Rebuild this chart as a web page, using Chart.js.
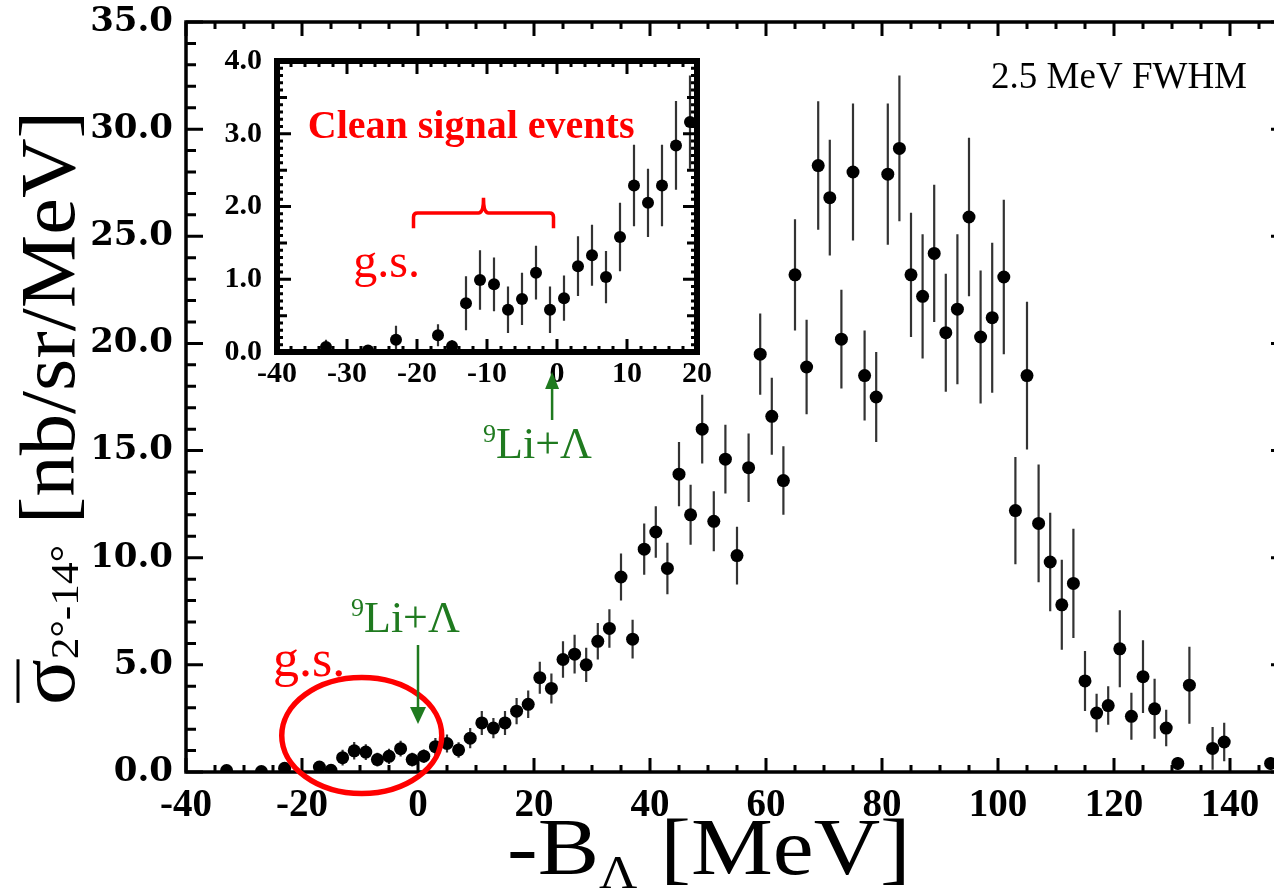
<!DOCTYPE html>
<html lang="en">
<head>
    <meta charset="UTF-8">
    <title>-B_Lambda spectrum with inset</title>
    <script src="https://cdn.jsdelivr.net/npm/chart.js"></script>
    <style>
        body {
            margin: 0;
            background: #fff;
            width: 1274px;
            height: 890px;
            overflow: hidden;
            position: relative;
        }
        #mainChart { position: absolute; left: 0; top: 0; }
        #insetChart { position: absolute; left: 215px; top: 40px; }
    </style>
</head>
<body>
    <canvas id="mainChart" width="1300" height="890"></canvas>
    <canvas id="insetChart" width="500" height="430"></canvas>

    <script>
        const SERIF = "'Liberation Serif', 'Times New Roman', serif";
        const RED = '#ff0000';
        const GREEN = '#1f7a1f';

        // bin centres (-B_Lambda, MeV), only the bins that have counts
        const energy = [-33, -27, -23, -17, -15, -13, -11, -9, -7, -5, -3, -1, 1, 3, 5, 7, 9, 11, 13, 15, 17, 19,
            21, 23, 25, 27, 29, 31, 33, 35, 37, 39, 41, 43, 45, 47, 49, 51, 53, 55, 57, 59, 61, 63, 65, 67, 69,
            71, 73, 75, 77, 79, 81, 83, 85, 87, 89, 91, 93, 95, 97, 99, 101, 103, 105, 107, 109, 111, 113, 115,
            117, 119, 121, 123, 125, 127, 129, 131, 133, 137, 139, 147];
        // cross section, nb/sr/MeV
        const xsec = [0.07, 0.02, 0.17, 0.23, 0.08, 0.67, 0.99, 0.93, 0.58, 0.73, 1.09, 0.58, 0.74, 1.18, 1.33, 1.03, 1.58, 2.29, 2.05, 2.29, 2.84, 3.16,
            4.4, 3.9, 5.25, 5.5, 5.0, 6.1, 6.7, 9.1, 6.2, 10.4, 11.2, 9.5, 13.9, 12.0, 16.0, 11.7, 14.6, 10.1, 14.2, 19.5, 16.6, 13.6, 23.2, 18.9, 28.3,
            26.8, 20.2, 28.0, 18.5, 17.5, 27.9, 29.1, 23.2, 22.2, 24.2, 20.5, 21.6, 25.9, 20.3, 21.2, 23.1, 12.2, 18.5, 11.6, 9.8, 7.8, 8.8, 4.25,
            2.75, 3.1, 5.75, 2.6, 4.45, 2.95, 2.05, 0.4, 4.05, 1.1, 1.4, 0.4];
        // statistical errors
        const xsecErr = [0.1, 0.05, 0.19, 0.15, 0.08, 0.37, 0.41, 0.37, 0.32, 0.36, 0.37, 0.32, 0.31, 0.41, 0.42, 0.36, 0.47, 0.56, 0.47, 0.56, 0.61, 0.64,
            0.75, 0.7, 0.85, 0.9, 0.8, 0.85, 0.9, 1.1, 0.9, 1.2, 1.2, 1.2, 1.5, 1.4, 1.6, 1.4, 1.6, 1.35, 1.6, 1.9, 1.8, 1.6, 2.6, 2.2, 3.0,
            2.7, 2.3, 3.2, 2.1, 2.1, 3.3, 3.4, 2.9, 2.9, 3.2, 2.75, 3.5, 3.7, 3.1, 3.5, 3.6, 2.5, 3.45, 2.75, 2.3, 2.1, 2.55, 1.4,
            0.9, 0.9, 1.8, 1.1, 1.7, 1.4, 0.85, 0.3, 1.8, 1.0, 0.9, 0.3];

        const mainXTicks = [-40, -20, 0, 20, 40, 60, 80, 100, 120, 140];
        const mainYTicks = [0, 5, 10, 15, 20, 25, 30, 35];
        const insetXTicks = [-40, -30, -20, -10, 0, 10, 20];
        const insetYTicks = [0, 1, 2, 3, 4];

        const points = energy.map((e, i) => ({ x: e, y: xsec[i], err: xsecErr[i] }));
        const insetPoints = points.filter(p => p.x <= 20);

        function drawRuns(ctx, x, y, runs) {
            runs.forEach(r => {
                ctx.font = r.font;
                ctx.fillText(r.text, x, y + (r.dy || 0));
                x += ctx.measureText(r.text).width;
            });
            return x;
        }

        function arrow(ctx, x, from, tip, head, halfW) {
            const dir = Math.sign(tip - from);
            ctx.beginPath();
            ctx.moveTo(x, from);
            ctx.lineTo(x, tip - dir * head);
            ctx.stroke();
            ctx.beginPath();
            ctx.moveTo(x, tip);
            ctx.lineTo(x - halfW, tip - dir * head);
            ctx.lineTo(x + halfW, tip - dir * head);
            ctx.closePath();
            ctx.fill();
        }

        // vertical error bars, drawn under the markers
        const errorBars = {
            id: 'errorBars',
            beforeDatasetsDraw(chart, args, opts) {
                const { ctx, chartArea: a, scales: { x, y } } = chart;
                ctx.save();
                ctx.beginPath();
                ctx.rect(a.left, a.top, a.width, a.height);
                ctx.clip();
                ctx.strokeStyle = '#333';
                ctx.lineWidth = opts.width;
                ctx.beginPath();
                chart.data.datasets[0].data.forEach(p => {
                    const px = x.getPixelForValue(p.x);
                    ctx.moveTo(px, y.getPixelForValue(p.y - p.err));
                    ctx.lineTo(px, y.getPixelForValue(p.y + p.err));
                });
                ctx.stroke();
                ctx.restore();
            }
        };

        // closed frame with inward ticks on all four sides
        const frameTicks = {
            id: 'frameTicks',
            afterDatasetsDraw(chart, args, o) {
                const { ctx, chartArea: a, scales: { x, y } } = chart;
                ctx.save();
                ctx.strokeStyle = '#000';
                ctx.lineWidth = o.tickWidth;
                ctx.beginPath();
                const nx = Math.round((x.max - x.min) / o.xMinor);
                for (let i = 0; i <= nx; i++) {
                    const v = x.min + i * o.xMinor;
                    const px = x.getPixelForValue(v);
                    const len = Math.abs(v % o.xMajor) < 1e-6 ? o.xMajorLen : o.xMinorLen;
                    ctx.moveTo(px, a.bottom); ctx.lineTo(px, a.bottom - len);
                    ctx.moveTo(px, a.top); ctx.lineTo(px, a.top + len);
                }
                const ny = Math.round((y.max - y.min) / o.yMinor);
                for (let i = 0; i <= ny; i++) {
                    const v = y.min + i * o.yMinor;
                    const py = y.getPixelForValue(v);
                    let len = o.yMinorLen;
                    if (o.yMid && Math.abs(v / o.yMid - Math.round(v / o.yMid)) < 1e-6) len = o.yMidLen;
                    if (Math.abs(v / o.yMajor - Math.round(v / o.yMajor)) < 1e-6) len = o.yMajorLen;
                    ctx.moveTo(a.left, py); ctx.lineTo(a.left + len, py);
                    ctx.moveTo(a.right, py); ctx.lineTo(a.right - len, py);
                }
                ctx.stroke();
                ctx.lineWidth = o.frameWidth;
                ctx.strokeRect(a.left, a.top, a.width, a.height);
                ctx.restore();
            }
        };

        const mainNotes = {
            id: 'mainNotes',
            afterDraw(chart) {
                const { ctx, scales: { x, y } } = chart;
                ctx.save();
                ctx.textBaseline = 'alphabetic';

                ctx.fillStyle = '#000';
                ctx.font = `37px ${SERIF}`;
                ctx.textAlign = 'right';
                ctx.fillText('2.5 MeV FWHM', 1247, 88);
                ctx.textAlign = 'left';

                // x axis title, a bit wider than the plain font
                ctx.save();
                ctx.translate(507, 874);
                ctx.scale(1.15, 1);
                drawRuns(ctx, 0, 0, [
                    { text: '-B', font: `80px ${SERIF}` },
                    { text: 'Λ', font: `46px ${SERIF}`, dy: 14 },
                    { text: ' [MeV]', font: `80px ${SERIF}` }
                ]);
                ctx.restore();

                // y axis title, rotated and stretched along its length
                ctx.save();
                ctx.translate(74, 705);
                ctx.rotate(-Math.PI / 2);
                ctx.scale(1.06, 1);
                ctx.font = `80px ${SERIF}`;
                const sw = ctx.measureText('σ').width;
                ctx.lineWidth = 3;
                ctx.strokeStyle = '#000';
                ctx.beginPath();
                ctx.moveTo(2, -56);
                ctx.lineTo(sw, -56);
                ctx.stroke();
                drawRuns(ctx, 0, 0, [
                    { text: 'σ', font: `80px ${SERIF}` },
                    { text: '2°-14°', font: `41px ${SERIF}`, dy: 4 },
                    { text: ' [nb/sr/MeV]', font: `78px ${SERIF}` }
                ]);
                ctx.restore();

                // ground state region
                ctx.strokeStyle = RED;
                ctx.lineWidth = 5.5;
                ctx.beginPath();
                ctx.ellipse(x.getPixelForValue(-9.7), y.getPixelForValue(1.7), 80, 58, 0, 0, Math.PI * 2);
                ctx.stroke();
                ctx.fillStyle = RED;
                ctx.font = `52px ${SERIF}`;
                ctx.fillText('g.s.', 273, 676);

                // 9Li + Lambda threshold
                ctx.fillStyle = GREEN;
                ctx.strokeStyle = GREEN;
                ctx.lineWidth = 2.5;
                arrow(ctx, x.getPixelForValue(0), 645, 724, 17, 8);
                drawRuns(ctx, 351, 632, [
                    { text: '9', font: `26px ${SERIF}`, dy: -16 },
                    { text: 'Li+Λ', font: `44px ${SERIF}` }
                ]);
                ctx.restore();
            }
        };

        const insetNotes = {
            id: 'insetNotes',
            afterDraw(chart) {
                const { ctx, scales: { x, y } } = chart;
                ctx.save();
                ctx.textBaseline = 'alphabetic';
                ctx.fillStyle = RED;
                ctx.strokeStyle = RED;

                ctx.font = `bold 40px ${SERIF}`;
                ctx.fillText('Clean signal events', x.getPixelForValue(-35.6), y.getPixelForValue(2.94));

                // bracket over -20 .. 0 MeV
                const xl = x.getPixelForValue(-20.5), xr = x.getPixelForValue(-0.5), xc = x.getPixelForValue(-10.5);
                const yEnd = y.getPixelForValue(1.70), yH = y.getPixelForValue(1.91), yTop = y.getPixelForValue(2.12);
                ctx.lineWidth = 3.5;
                ctx.beginPath();
                ctx.moveTo(xl, yEnd);
                ctx.lineTo(xl, yH + 4);
                ctx.quadraticCurveTo(xl, yH, xl + 4, yH);
                ctx.lineTo(xc - 5, yH);
                ctx.quadraticCurveTo(xc, yH, xc, yTop);
                ctx.quadraticCurveTo(xc, yH, xc + 5, yH);
                ctx.lineTo(xr - 4, yH);
                ctx.quadraticCurveTo(xr, yH, xr, yH + 4);
                ctx.lineTo(xr, yEnd);
                ctx.stroke();

                ctx.font = `48px ${SERIF}`;
                ctx.fillText('g.s.', x.getPixelForValue(-29.1), y.getPixelForValue(1.03));

                ctx.fillStyle = GREEN;
                ctx.strokeStyle = GREEN;
                ctx.lineWidth = 2.5;
                const ax = x.getPixelForValue(-0.7);
                arrow(ctx, ax, y.bottom + 68, y.bottom + 20, 17, 7);
                drawRuns(ctx, ax - 69, y.bottom + 106, [
                    { text: '9', font: `26px ${SERIF}`, dy: -16 },
                    { text: 'Li+Λ', font: `44px ${SERIF}` }
                ]);
                ctx.restore();
            }
        };

        const mainChart = new Chart(document.getElementById('mainChart'), {
            type: 'scatter',
            data: {
                datasets: [{
                    data: points,
                    pointRadius: 6.5,
                    pointBackgroundColor: '#000',
                    pointBorderWidth: 0
                }]
            },
            options: {
                responsive: false,
                devicePixelRatio: 1,
                animation: false,
                layout: { padding: { top: 22, right: 12, left: 0, bottom: 0 } },
                plugins: {
                    legend: { display: false },
                    tooltip: { enabled: false },
                    errorBars: { width: 2.2 },
                    frameTicks: {
                        frameWidth: 3.5, tickWidth: 3,
                        xMinor: 5, xMajor: 20, xMinorLen: 7, xMajorLen: 14,
                        yMinor: 1, yMajor: 5, yMinorLen: 10, yMajorLen: 17
                    }
                },
                scales: {
                    x: {
                        type: 'linear',
                        min: -40,
                        max: 150,
                        afterBuildTicks: s => { s.ticks = mainXTicks.map(v => ({ value: v })); },
                        afterFit: s => { s.height = 118; },
                        grid: { display: false },
                        border: { display: false },
                        ticks: {
                            color: '#000',
                            padding: 3,
                            maxRotation: 0,
                            font: { family: SERIF, size: 39, weight: 'bold' },
                            callback: v => String(v)
                        }
                    },
                    y: {
                        min: 0,
                        max: 35,
                        afterBuildTicks: s => { s.ticks = mainYTicks.map(v => ({ value: v })); },
                        afterFit: s => { s.width = 186; },
                        grid: { display: false },
                        border: { display: false },
                        ticks: {
                            color: '#000',
                            padding: 5,
                            font: { family: "'DejaVu Serif', serif", size: 34, weight: 'bold', lineHeight: 0.4 },
                            callback: v => v.toFixed(1)
                        }
                    }
                }
            },
            plugins: [errorBars, frameTicks, mainNotes]
        });

        const insetChart = new Chart(document.getElementById('insetChart'), {
            type: 'scatter',
            data: {
                datasets: [{
                    data: insetPoints,
                    pointRadius: 6,
                    pointBackgroundColor: '#000',
                    pointBorderWidth: 0
                }]
            },
            options: {
                responsive: false,
                devicePixelRatio: 1,
                animation: false,
                layout: { padding: { top: 21, right: 18, left: 0, bottom: 0 } },
                plugins: {
                    legend: { display: false },
                    tooltip: { enabled: false },
                    errorBars: { width: 2.2 },
                    frameTicks: {
                        frameWidth: 6, tickWidth: 3,
                        xMinor: 2, xMajor: 10, xMinorLen: 6, xMajorLen: 13,
                        yMinor: 0.1, yMid: 0.5, yMajor: 1, yMinorLen: 6, yMidLen: 10, yMajorLen: 14
                    }
                },
                scales: {
                    x: {
                        type: 'linear',
                        min: -40,
                        max: 20,
                        afterBuildTicks: s => { s.ticks = insetXTicks.map(v => ({ value: v })); },
                        afterFit: s => { s.height = 118; },
                        grid: { display: false },
                        border: { display: false },
                        ticks: {
                            color: '#000',
                            padding: -4,
                            maxRotation: 0,
                            font: { family: SERIF, size: 30, weight: 'bold' },
                            callback: v => String(v)
                        }
                    },
                    y: {
                        min: 0,
                        max: 4,
                        afterBuildTicks: s => { s.ticks = insetYTicks.map(v => ({ value: v })); },
                        afterFit: s => { s.width = 62; },
                        grid: { display: false },
                        border: { display: false },
                        ticks: {
                            color: '#000',
                            padding: 7,
                            font: { family: SERIF, size: 30, weight: 'bold', lineHeight: 0.4 },
                            callback: v => v.toFixed(1)
                        }
                    }
                }
            },
            plugins: [errorBars, frameTicks, insetNotes]
        });
    </script>
</body>
</html>
